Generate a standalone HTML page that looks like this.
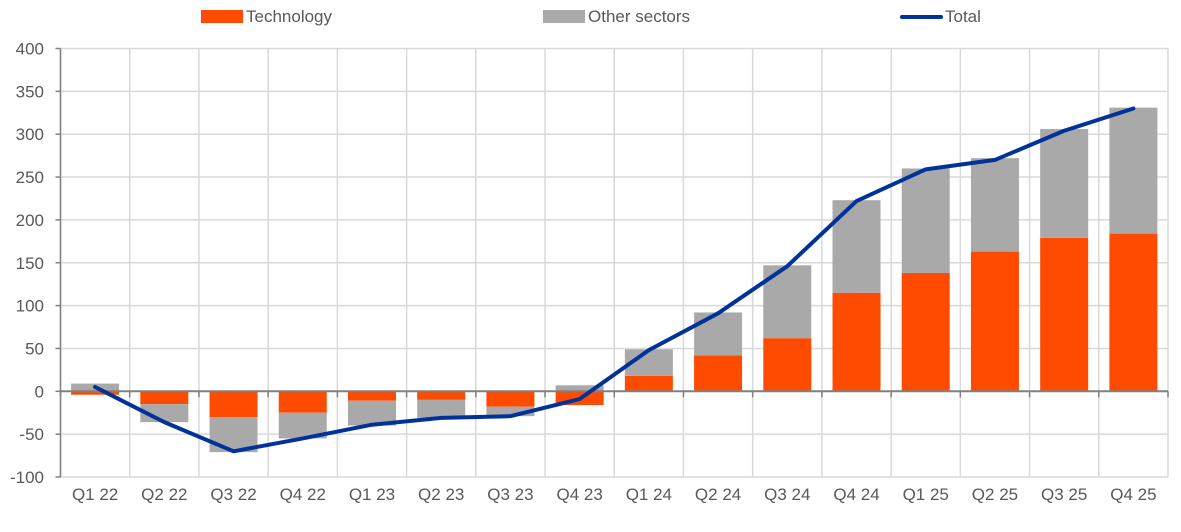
<!DOCTYPE html>
<html><head><meta charset="utf-8"><style>
body{margin:0;background:#fff;}
svg{display:block;font-family:"Liberation Sans",Arial,sans-serif;}
</style></head><body>
<svg id="chart" width="1181" height="532">
<g>
<rect x="201" y="10" width="42" height="13" fill="#ff4b00"/>
<text x="246" y="22" font-size="17" fill="#595959">Technology</text>
<rect x="543" y="10" width="42" height="13" fill="#a9a9a9"/>
<text x="588" y="22" font-size="17" fill="#595959">Other sectors</text>
<line x1="902" y1="17" x2="941" y2="17" stroke="#003299" stroke-width="4" stroke-linecap="round"/>
<text x="945" y="22" font-size="17" fill="#595959">Total</text>
</g>
<g id="grid"></g><g id="bars"></g><g id="axes"></g><g id="line"></g>
</svg>
<script>
const categories=["Q1 22","Q2 22","Q3 22","Q4 22","Q1 23","Q2 23","Q3 23","Q4 23","Q1 24","Q2 24","Q3 24","Q4 24","Q1 25","Q2 25","Q3 25","Q4 25"];
const technology=[-4,-15,-30,-25,-11,-10,-18,-16,18,42,62,115,138,163,179,184];
const otherSectors=[9,-21,-41,-30,-29,-21,-11,7,31,50,85,108,122,109,127,147];
const total=[5,-36,-70,-55,-39,-31,-29,-9,48,91,146,222,259,270,304,330];
const yTicks=[400,350,300,250,200,150,100,50,0,-50,-100];
const NS="http://www.w3.org/2000/svg";
const L=60.5,R=1168,T=48.5,B=477,yMin=-100,yMax=400;
const slot=(R-L)/categories.length,bw=48;
const y=v=>T+(yMax-v)/(yMax-yMin)*(B-T);
const xc=i=>L+slot*(i+0.5);
function mk(tag,attrs,parent){const e=document.createElementNS(NS,tag);for(const k in attrs)e.setAttribute(k,attrs[k]);document.getElementById(parent).appendChild(e);return e;}
yTicks.forEach(t=>{
 const g=mk('line',{x1:L,x2:R,y1:y(t),y2:y(t),stroke:'#d9d9d9','stroke-width':1.5},'grid');
 
 
 const tx=mk('text',{x:44,y:y(t)+6,'text-anchor':'end','font-size':17,fill:'#595959'},'axes');
 tx.textContent=t;
 
 
});
for(let i=0;i<=categories.length;i++){
 const g=mk('line',{x1:L+slot*i,x2:L+slot*i,y1:T,y2:B,stroke:'#d9d9d9','stroke-width':1.5},'grid');
 
 
}
categories.forEach((c,i)=>{
 const t=technology[i],o=otherSectors[i];
 let tb=Math.min(0,t),tt=Math.max(0,t);
 let ob,ot;
 if(o>=0){const base=t>=0?t:0;ob=base;ot=base+o;}else{const base=t<0?t:0;ot=base;ob=base+o;}
 const r1=mk('rect',{x:xc(i)-bw/2,y:y(tt),width:bw,height:y(tb)-y(tt),fill:'#ff4b00'},'bars');
 
 
 const r2=mk('rect',{x:xc(i)-bw/2,y:y(ot),width:bw,height:y(ob)-y(ot),fill:'#a9a9a9'},'bars');
 
 
 const lb=mk('text',{x:xc(i),y:500,'text-anchor':'middle','font-size':17,fill:'#595959'},'axes');
 lb.textContent=c;
 
 
});
const ax=mk('line',{x1:L,x2:R,y1:y(0),y2:y(0),stroke:'#808080','stroke-width':2},'axes');


for(let i=0;i<=categories.length;i++){
 const tk=mk('line',{x1:L+slot*i,x2:L+slot*i,y1:y(0),y2:y(0)+6,stroke:'#808080','stroke-width':1.5},'axes');
 
 
}
const ya=mk('line',{x1:L,x2:L,y1:T,y2:B,stroke:'#808080','stroke-width':1.5},'axes');


for(const t of yTicks){const tk=mk('line',{x1:L-5,x2:L,y1:y(t),y2:y(t),stroke:'#808080','stroke-width':1.5},'axes');
 
 }
const pl=mk('polyline',{points:total.map((v,i)=>xc(i)+','+y(v)).join(' '),fill:'none',stroke:'#003299','stroke-width':4,'stroke-linejoin':'round','stroke-linecap':'round'},'line');


</script>
</body></html>
